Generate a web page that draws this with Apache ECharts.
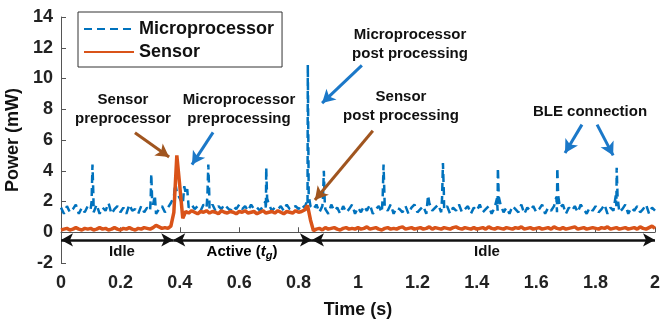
<!DOCTYPE html>
<html>
<head>
<meta charset="utf-8">
<script src="https://cdn.jsdelivr.net/npm/echarts@6/dist/echarts.min.js"></script>
<style>
  html, body { margin: 0; padding: 0; background: #fff; }
  #main { width: 661px; height: 320px; }
</style>
</head>
<body>
<div id="main"></div>
<script>
const FONT = "'Liberation Sans', Arial, sans-serif";
const STEP = 0.01; // sampling period of the traces (s)

// microprocessor power (mW), one value every 10 ms from 0 to 2 s
const procBase = [
  1.6, 1.2, 1.7, 1.3, 1.5, 1.8, 1.2, 1.6, 1.3, 1.7,
  1.5, 1.3, 1.8, 1.2, 1.6, 1.4, 1.9, 1.2, 1.5, 1.7,
  1.3, 1.6, 1.2, 1.8, 1.4, 1.5, 1.2, 1.7, 1.3, 1.6,
  1.4, 1.8, 1.2, 1.5, 1.7, 1.3, 1.6, 1.9, 2.3, 2.6,
  2.2, 1.8, 2.5, 1.6, 1.8, 1.5, 1.7, 1.4, 1.8, 1.6,
  1.5, 1.8, 1.4, 1.7, 1.5, 1.8, 1.6, 1.4, 1.7, 1.5,
  1.8, 1.5, 1.7, 1.4, 1.8, 1.5, 1.6, 1.4, 1.7, 1.5,
  1.8, 1.4, 1.6, 1.5, 1.7, 1.4, 1.8, 1.5, 1.6, 1.7,
  1.5, 1.8, 1.6, 1.4, 1.7, 1.5, 1.8, 1.3, 1.7, 1.5,
  1.2, 1.8, 1.4, 1.6, 1.2, 1.7, 1.3, 1.5, 1.8, 1.2,
  1.6, 1.3, 1.7, 1.4, 1.8, 1.2, 1.5, 1.7, 1.3, 1.6,
  1.4, 1.8, 1.2, 1.6, 1.5, 1.3, 1.7, 1.2, 1.6, 1.8,
  1.3, 1.5, 1.7, 1.2, 1.9, 1.4, 1.6, 1.8, 1.3, 1.5,
  1.7, 1.2, 1.6, 1.4, 1.8, 1.3, 1.5, 1.7, 1.2, 1.6,
  1.4, 1.8, 1.3, 1.5, 1.7, 1.2, 1.6, 1.4, 1.8, 1.3,
  1.6, 1.2, 1.7, 1.5, 1.3, 1.8, 1.2, 1.6, 1.4, 1.7,
  1.3, 1.5, 1.8, 1.2, 1.6, 1.4, 1.7, 1.3, 1.6, 1.8,
  1.2, 1.6, 1.4, 1.7, 1.3, 1.8, 1.5, 1.2, 1.6, 1.4,
  1.7, 1.3, 1.5, 1.8, 1.2, 1.6, 1.4, 1.7, 1.3, 1.5,
  1.8, 1.2, 1.6, 1.4, 1.7, 1.3, 1.5, 1.8, 1.2, 1.6,
  1.4
];

// short bursts of the microprocessor (time s, power mW)
const procSpikes = [
  [0.103, 2.0], [0.106, 4.4], [0.109, 2.4],
  [0.302, 2.2], [0.304, 3.8], [0.307, 2.0], [0.316, 2.4],
  [0.385, 3.2], [0.415, 3.0], [0.425, 2.8],
  [0.493, 2.4], [0.496, 4.4], [0.499, 2.6],
  [0.688, 2.0], [0.691, 4.2], [0.694, 2.2],
  [0.828, 2.0], [0.831, 10.9], [0.834, 2.4],
  [0.882, 2.2], [0.885, 4.0], [0.888, 2.0],
  [1.083, 2.2], [1.086, 4.4], [1.089, 2.4],
  [1.236, 2.4],
  [1.283, 2.2], [1.286, 4.5], [1.289, 2.6],
  [1.468, 2.2], [1.471, 4.2], [1.474, 2.3],
  [1.668, 2.3], [1.671, 4.2], [1.674, 2.4],
  [1.868, 2.4], [1.871, 4.2], [1.874, 2.3]
];

// sensor power (mW), one value every 10 ms from 0 to 2 s
const sensorBase = [
  0.15, 0.2, 0.25, 0.15, 0.2, 0.3, 0.2, 0.15, 0.25, 0.2,
  0.25, 0.15, 0.2, 0.3, 0.2, 0.25, 0.15, 0.2, 0.3, 0.2,
  0.15, 0.25, 0.2, 0.3, 0.2, 0.15, 0.25, 0.2, 0.3, 0.25,
  0.2, 0.3, 0.45, 0.35, 0.25, 0.3, 0.25, 0.4, 1.3, 5.0,
  3.0, 0.9, 1.35, 1.25, 1.4, 1.3, 1.2, 1.35, 1.3, 1.4,
  1.25, 1.35, 1.3, 1.2, 1.4, 1.3, 1.25, 1.35, 1.3, 1.2,
  1.35, 1.3, 1.4, 1.25, 1.3, 1.35, 1.2, 1.3, 1.4, 1.25,
  1.3, 1.35, 1.25, 1.4, 1.3, 1.2, 1.35, 1.3, 1.25, 1.4,
  1.3, 1.35, 1.45, 1.75, 0.8, 0.1, 0.2, 0.25, 0.15, 0.3,
  0.2, 0.25, 0.3, 0.2, 0.15, 0.25, 0.3, 0.2, 0.25, 0.2,
  0.3, 0.2, 0.25, 0.35, 0.2, 0.25, 0.3, 0.2, 0.15, 0.25,
  0.3, 0.2, 0.25, 0.2, 0.3, 0.35, 0.2, 0.25, 0.3, 0.2,
  0.25, 0.3, 0.2, 0.25, 0.35, 0.2, 0.3, 0.25, 0.2, 0.3,
  0.25, 0.2, 0.3, 0.35, 0.25, 0.2, 0.3, 0.25, 0.2, 0.3,
  0.2, 0.25, 0.3, 0.2, 0.35, 0.25, 0.2, 0.3, 0.25, 0.2,
  0.3, 0.25, 0.2, 0.3, 0.25, 0.35, 0.2, 0.25, 0.3, 0.2,
  0.25, 0.3, 0.2, 0.25, 0.3, 0.2, 0.35, 0.25, 0.2, 0.3,
  0.2, 0.25, 0.3, 0.35, 0.2, 0.25, 0.3, 0.2, 0.25, 0.3,
  0.25, 0.2, 0.3, 0.25, 0.35, 0.2, 0.25, 0.3, 0.2, 0.25,
  0.3, 0.2, 0.25, 0.3, 0.2, 0.35, 0.25, 0.2, 0.3, 0.4,
  0.25
];

// phases shown by the double arrows below the traces (s)
const phases = [
  { name: "Idle", from: 0, to: 0.378 },
  { name: "Active", from: 0.378, to: 0.845 },
  { name: "Idle", from: 0.845, to: 2.0 }
];
const phaseLevel = -0.5;

// annotation arrows: [fromTime, fromPower, toTime, toPower, kind]
const notes = [
  [0.249, 6.47, 0.364, 4.9, "sensor"],
  [0.512, 6.5, 0.441, 4.4, "proc"],
  [1.013, 10.85, 0.879, 8.4, "proc"],
  [1.05, 6.6, 0.855, 2.1, "sensor"],
  [1.754, 7.0, 1.697, 5.16, "proc"],
  [1.805, 7.0, 1.859, 5.0, "proc"]
];

const procData = procBase.map((v, i) => [+(i * STEP).toFixed(3), v])
  .concat(procSpikes)
  .sort((a, b) => a[0] - b[0]);
const sensorData = sensorBase.map((v, i) => [+(i * STEP).toFixed(3), v]);

const arrowColor = { sensor: "#a0551f", proc: "#1b78c8" };

var chartDom = document.getElementById("main");
var chart = echarts.init(chartDom, null, { renderer: "canvas" });

const labelStyle = { fontFamily: FONT, fontWeight: "bold", fontSize: 15, fill: "#111", textAlign: "center", textVerticalAlign: "middle", lineHeight: 19 };

var option = {
  animation: false,
  textStyle: { fontFamily: FONT },
  grid: { left: 61, right: 6, top: 17, bottom: 57, outerBoundsMode: "none", containLabel: false },
  legend: {
    left: 78,
    top: 12,
    orient: "vertical",
    padding: [8, 8, 6, 5],
    itemGap: 5,
    itemWidth: 50,
    itemHeight: 14,
    borderColor: "#333",
    borderWidth: 1,
    backgroundColor: "#fff",
    itemStyle: { opacity: 0 },
    textStyle: { fontFamily: FONT, fontWeight: "bold", fontSize: 18, color: "#111" },
    data: ["Microprocessor", "Sensor"]
  },
  xAxis: {
    type: "value",
    min: 0,
    max: 2,
    interval: 0.2,
    name: "Time (s)",
    nameLocation: "middle",
    nameGap: 38,
    nameTextStyle: { fontFamily: FONT, fontWeight: "bold", fontSize: 18, color: "#111" },
    axisLine: { lineStyle: { color: "#555", width: 1 } },
    axisTick: { inside: true, length: 5, lineStyle: { color: "#555" } },
    axisLabel: { fontFamily: FONT, fontWeight: "bold", fontSize: 18, color: "#222", margin: 11 },
    splitLine: { show: false }
  },
  yAxis: {
    type: "value",
    min: -2,
    max: 14,
    interval: 2,
    name: "Power (mW)",
    nameLocation: "middle",
    nameGap: 33,
    nameTextStyle: { fontFamily: FONT, fontWeight: "bold", fontSize: 18, color: "#111" },
    axisLine: { show: true, lineStyle: { color: "#555", width: 1 } },
    axisTick: { show: true, inside: true, length: 5, lineStyle: { color: "#555" } },
    axisLabel: { fontFamily: FONT, fontWeight: "bold", fontSize: 18, color: "#222", margin: 8 },
    splitLine: { show: false }
  },
  series: [
    {
      name: "Microprocessor",
      type: "line",
      data: procData,
      symbol: "none",
      lineStyle: { color: "#0072bd", width: 2.5, type: [8, 5] },
      itemStyle: { color: "#0072bd" },
      markLine: {
        silent: true,
        symbol: ["arrow", "arrow"],
        symbolSize: [10, 12],
        label: { show: false },
        lineStyle: { color: "#111", width: 2.5, type: "solid" },
        data: phases.map(p => [{ coord: [p.from, phaseLevel] }, { coord: [p.to, phaseLevel] }])
      }
    },
    {
      name: "Sensor",
      type: "line",
      data: sensorData,
      symbol: "none",
      lineStyle: { color: "#d95319", width: 3.5 },
      itemStyle: { color: "#d95319" },
      markLine: {
        silent: true,
        symbol: ["none", "arrow"],
        symbolSize: [11, 13],
        label: { show: false },
        data: notes.map(n => [
          { coord: [n[0], n[1]], lineStyle: { color: arrowColor[n[4]], width: 3, type: "solid" } },
          { coord: [n[2], n[3]] }
        ])
      }
    }
  ],
  graphic: [
    { type: "text", x: 123, y: 109, style: Object.assign({}, labelStyle, { text: "Sensor\npreprocessor" }) },
    { type: "text", x: 239, y: 109, style: Object.assign({}, labelStyle, { text: "Microprocessor\npreprocessing" }) },
    { type: "text", x: 410, y: 44, style: Object.assign({}, labelStyle, { text: "Microprocessor\npost processing" }) },
    { type: "text", x: 401, y: 106, style: Object.assign({}, labelStyle, { text: "Sensor\npost processing" }) },
    { type: "text", x: 590, y: 112, style: Object.assign({}, labelStyle, { text: "BLE connection" }) },
    { type: "text", x: 122, y: 252, style: Object.assign({}, labelStyle, { text: "Idle" }) },
    { type: "text", x: 487, y: 252, style: Object.assign({}, labelStyle, { text: "Idle" }) },
    {
      type: "text", x: 242, y: 252,
      style: {
        text: "{n|Active (}{i|t}{s|g}{n|)}",
        textAlign: "center", textVerticalAlign: "middle",
        rich: {
          n: { fontFamily: FONT, fontWeight: "bold", fontSize: 15, color: "#111" },
          i: { fontFamily: FONT, fontWeight: "bold", fontStyle: "italic", fontSize: 15, color: "#111" },
          s: { fontFamily: FONT, fontWeight: "bold", fontStyle: "italic", fontSize: 11, color: "#111", padding: [8, 0, 0, 0] }
        }
      }
    }
  ]
};

option && chart.setOption(option);
</script>
</body>
</html>
